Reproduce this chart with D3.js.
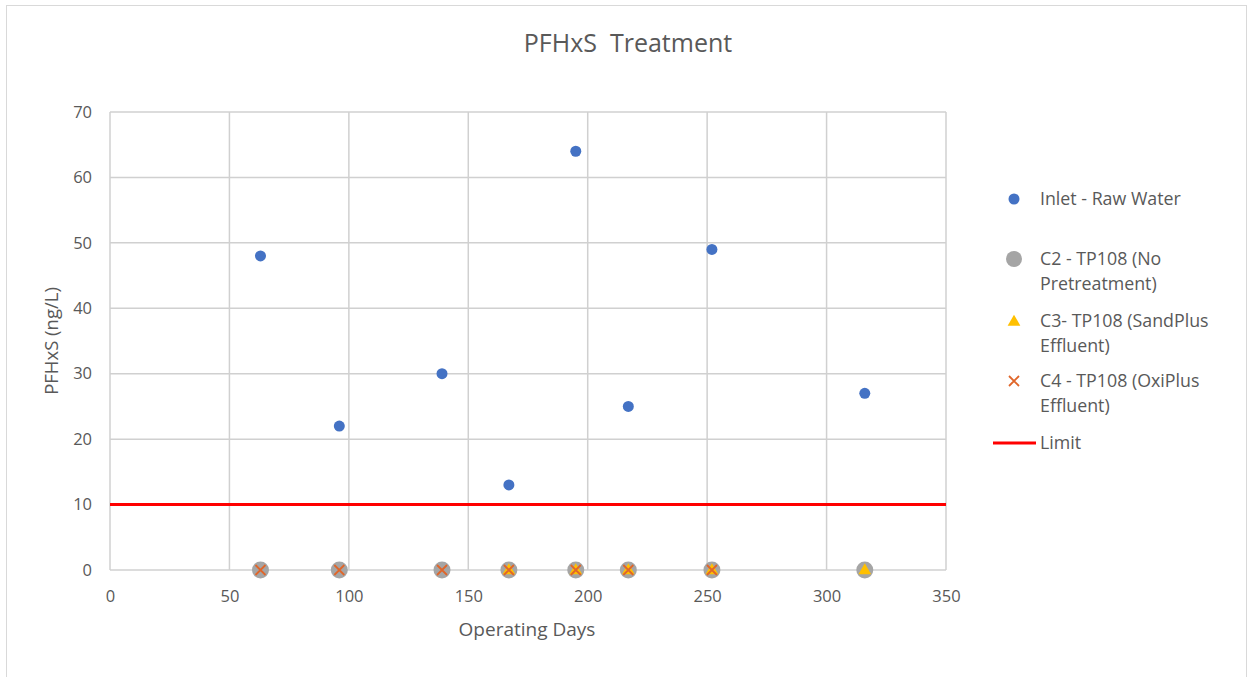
<!DOCTYPE html>
<html>
<head>
<meta charset="utf-8">
<script src="https://cdn.jsdelivr.net/npm/d3@7"></script>
<style>
  body { margin: 0; background: #fff; }
  svg text { font-family: "Open Sans", "Liberation Sans", sans-serif; fill: #595959; }
</style>
</head>
<body>
<div id="chart"></div>
<script>
// data
var days = [63, 96, 139, 167, 195, 217, 252, 316];
var inlet = [48, 22, 30, 13, 64, 25, 49, 27];
var c2Days = [63, 96, 139, 167, 195, 217, 252, 316];
var c2Vals = [0, 0, 0, 0, 0, 0, 0, 0];
var c3Days = [167, 195, 217, 252, 316];
var c3Vals = [0, 0, 0, 0, 0];
var c4Days = [63, 96, 139, 167, 195, 217, 252];
var c4Vals = [0, 0, 0, 0, 0, 0, 0];
var limit = 10;
var xTicks = [0, 50, 100, 150, 200, 250, 300, 350];
var yTicks = [0, 10, 20, 30, 40, 50, 60, 70];

var W = 1248, H = 677;
var plot = {left: 110, right: 946, top: 112, bottom: 570};

var svg = d3.select("#chart").append("svg").attr("width", W).attr("height", H);

// outer chart border
svg.append("rect").attr("x", 6.5).attr("y", 5.5).attr("width", 1240).attr("height", 680)
  .attr("fill", "#fff").attr("stroke", "#d9d9d9").attr("stroke-width", 1);

var x = d3.scaleLinear().domain([0, 350]).range([plot.left, plot.right]);
var y = d3.scaleLinear().domain([0, 70]).range([plot.bottom, plot.top]);

//gridlines
svg.append("g").selectAll("line").data(xTicks).enter().append("line")
  .attr("x1", d => x(d)).attr("x2", d => x(d))
  .attr("y1", plot.top).attr("y2", plot.bottom)
  .attr("stroke", "#d0d0d0").attr("stroke-width", 1.5);
svg.append("g").selectAll("line").data(yTicks).enter().append("line")
  .attr("x1", plot.left).attr("x2", plot.right)
  .attr("y1", d => y(d)).attr("y2", d => y(d))
  .attr("stroke", "#d0d0d0").attr("stroke-width", 1.5);

// axes (labels only)
var xAxis = svg.append("g").attr("transform", "translate(0," + plot.bottom + ")")
  .call(d3.axisBottom(x).tickValues(xTicks).tickSize(0).tickPadding(20));
xAxis.select(".domain").remove();
xAxis.selectAll("text").style("font-size", "16.5px");

var yAxis = svg.append("g").attr("transform", "translate(" + plot.left + ",0)")
  .call(d3.axisLeft(y).tickValues(yTicks).tickSize(0).tickPadding(18));
yAxis.select(".domain").remove();
yAxis.selectAll("text").style("font-size", "16.5px");

// limit line
svg.append("line")
  .attr("x1", x(0)).attr("x2", x(350)).attr("y1", y(limit)).attr("y2", y(limit))
  .attr("stroke", "#ff0000").attr("stroke-width", 3);

// C2 grey circles
svg.append("g").selectAll("circle").data(c2Days).enter().append("circle")
  .attr("cx", d => x(d)).attr("cy", (d, i) => y(c2Vals[i])).attr("r", 8.5)
  .attr("fill", "#a5a5a5");

// C3 triangles
var tri = d3.symbol().type(d3.symbolTriangle).size(70);
svg.append("g").selectAll("path").data(c3Days).enter().append("path")
  .attr("d", tri)
  .attr("transform", (d, i) => "translate(" + x(d) + "," + (y(c3Vals[i]) + 0.5) + ")")
  .attr("fill", "#ffc000");

// C4 crosses
function cross(g, cx, cy, s) {
  g.append("path")
    .attr("d", "M" + (cx - s) + "," + (cy - s) + "L" + (cx + s) + "," + (cy + s) +
               "M" + (cx - s) + "," + (cy + s) + "L" + (cx + s) + "," + (cy - s))
    .attr("stroke", "#e0662a").attr("stroke-width", 1.8).attr("fill", "none");
}
var c4g = svg.append("g");
c4Days.forEach(function(d, i) { cross(c4g, x(d), y(c4Vals[i]), 5); });

// inlet blue dots
svg.append("g").selectAll("circle").data(days).enter().append("circle")
  .attr("cx", d => x(d)).attr("cy", (d, i) => y(inlet[i])).attr("r", 5.5)
  .attr("fill", "#4472c4");

// title + axis titles
svg.append("text").attr("x", 628).attr("y", 52).attr("text-anchor", "middle")
  .style("font-size", "25px").attr("xml:space", "preserve").text("PFHxS  Treatment");
svg.append("text").attr("x", 527).attr("y", 636).attr("text-anchor", "middle")
  .style("font-size", "19px").text("Operating Days");
svg.append("text").attr("transform", "translate(58," + ((plot.top + plot.bottom) / 2) + ") rotate(-90)")
  .attr("text-anchor", "middle").style("font-size", "18.5px").text("PFHxS (ng/L)");

// legend
var lg = svg.append("g");
var lx = 1014, tx = 1040, fs = "17.8px";
lg.append("circle").attr("cx", lx).attr("cy", 199).attr("r", 5.5).attr("fill", "#4472c4");
lg.append("text").attr("x", tx).attr("y", 205).style("font-size", fs).text("Inlet - Raw Water");

lg.append("circle").attr("cx", lx).attr("cy", 259).attr("r", 8).attr("fill", "#a5a5a5");
lg.append("text").attr("x", tx).attr("y", 265).style("font-size", fs).text("C2 - TP108 (No");
lg.append("text").attr("x", tx).attr("y", 290).style("font-size", fs).text("Pretreatment)");

lg.append("path").attr("d", tri).attr("transform", "translate(" + lx + ",322)").attr("fill", "#ffc000");
lg.append("text").attr("x", tx).attr("y", 327).style("font-size", fs).text("C3- TP108 (SandPlus");
lg.append("text").attr("x", tx).attr("y", 352).style("font-size", fs).text("Effluent)");

cross(lg, lx, 381, 5);
lg.append("text").attr("x", tx).attr("y", 387).style("font-size", fs).text("C4 - TP108 (OxiPlus");
lg.append("text").attr("x", tx).attr("y", 412).style("font-size", fs).text("Effluent)");

lg.append("line").attr("x1", 993).attr("x2", 1036).attr("y1", 443).attr("y2", 443)
  .attr("stroke", "#ff0000").attr("stroke-width", 3);
lg.append("text").attr("x", tx).attr("y", 449).style("font-size", fs).text("Limit");
</script>
</body>
</html>
